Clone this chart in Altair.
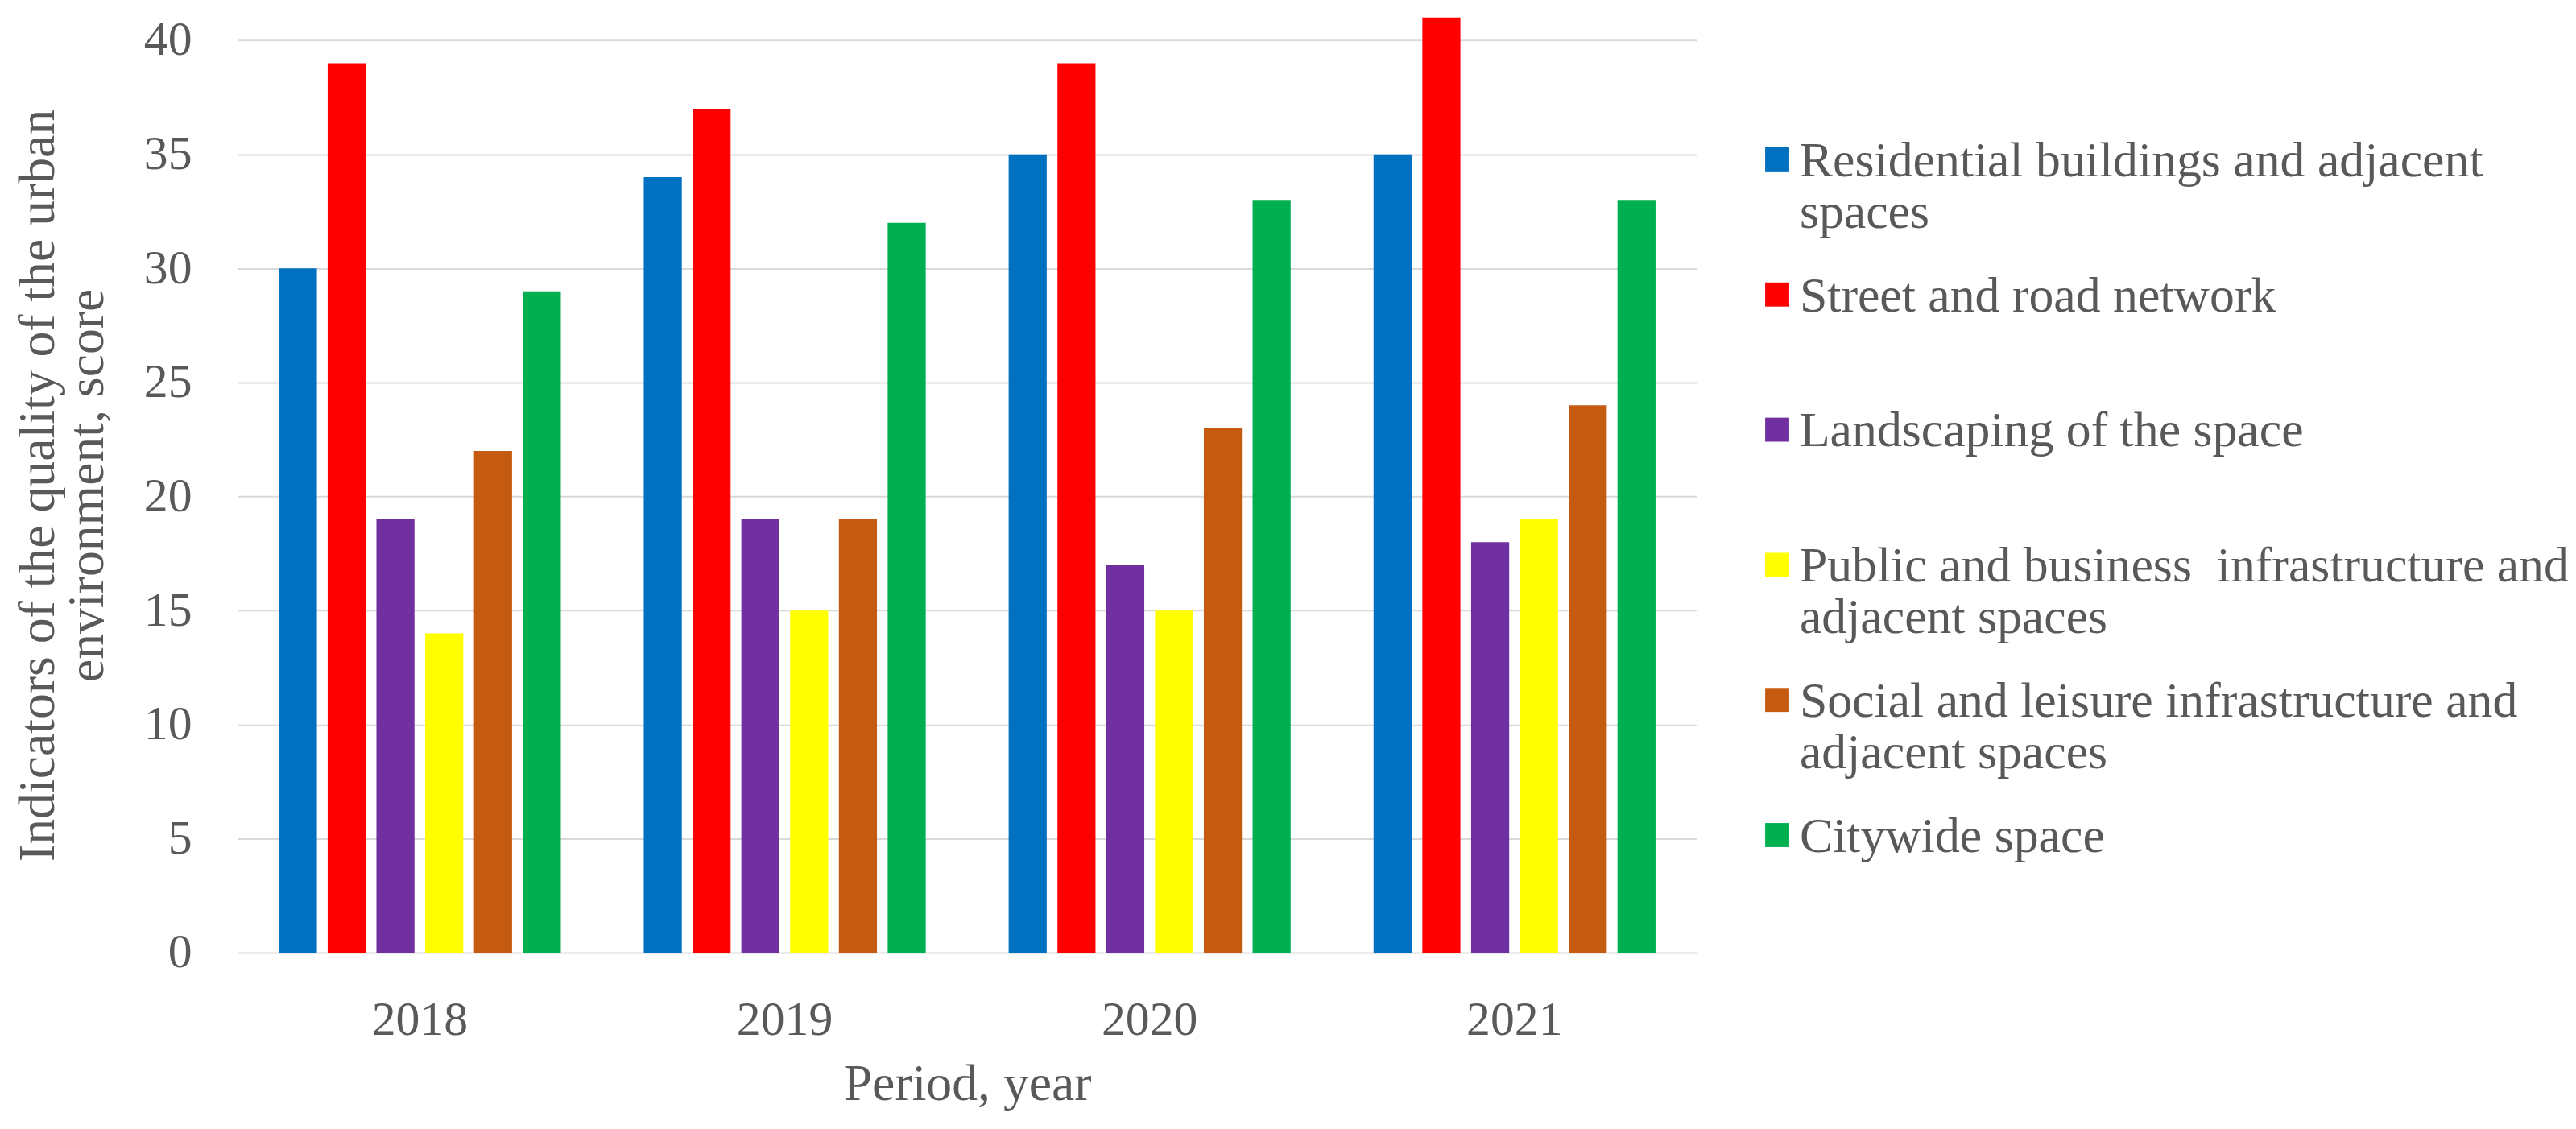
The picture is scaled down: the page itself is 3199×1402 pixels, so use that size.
import altair as alt
import pandas as pd

years = ["2018", "2019", "2020", "2021"]
categories = [
    "Residential buildings and adjacent spaces",
    "Street and road network",
    "Landscaping of the space",
    "Public and business infrastructure and adjacent spaces",
    "Social and leisure infrastructure and adjacent spaces",
    "Citywide space",
]
legend_labels = [
    "Residential buildings and adjacent| spaces",
    " Street and road network",
    "Landscaping of the space",
    "Public and business\u00a0 infrastructure and|adjacent spaces",
    "Social and leisure infrastructure and|adjacent spaces",
    "Citywide space",
]
colors = ["#0070C0", "#FF0000", "#7030A0", "#FFFF00", "#C55A11", "#00B050"]

residential = [30, 34, 35, 35]
street = [39, 37, 39, 41]
landscaping = [19, 19, 17, 18]
public = [14, 15, 15, 19]
social = [22, 19, 23, 24]
citywide = [29, 32, 33, 33]

series = [residential, street, landscaping, public, social, citywide]
rows = []
for cat, vals in zip(categories, series):
    for y, v in zip(years, vals):
        rows.append({"year": y, "category": cat, "value": v})
df = pd.DataFrame(rows)

FONT = "Liberation Serif"
TXT = "#595959"
LFS = 60   # tick labels
TFS = 64   # axis titles
GFS = 62   # legend text
PLOT_H = 1166

bars = alt.Chart(df).mark_bar().encode(
    x=alt.X("year:N", sort=years,
            scale=alt.Scale(paddingInner=0, paddingOuter=0),
            axis=alt.Axis(title="Period, year", labelAngle=0, ticks=False, domain=False,
                          labelFont=FONT, labelFontSize=LFS, labelColor=TXT, labelPadding=55,
                          titleFont=FONT, titleFontSize=TFS, titleColor=TXT, titleFontWeight="normal",
                          titlePadding=18)),
    xOffset=alt.XOffset("category:N", sort=categories,
                        scale=alt.Scale(paddingInner=0.22, paddingOuter=0.85)),
    y=alt.Y("value:Q",
            scale=alt.Scale(domain=[0, 41], nice=False),
            axis=alt.Axis(values=[0, 5, 10, 15, 20, 25, 30, 35, 40],
                          title=["Indicators of the quality of the urban", "environment, score"],
                          ticks=False, domain=False, grid=True, gridColor="#D9D9D9", gridWidth=2,
                          labelFont=FONT, labelFontSize=LFS, labelColor=TXT, labelPadding=57,
                          titleFont=FONT, titleFontSize=TFS, titleColor=TXT, titleFontWeight="normal",
                          titleLineHeight=61, titlePadding=38)),
    color=alt.Color("category:N", sort=categories,
                    scale=alt.Scale(domain=categories, range=colors), legend=None),
).properties(width=1820, height=PLOT_H)

leg_df = pd.DataFrame({
    "category": categories,
    "label": legend_labels,
    "idx": list(range(len(categories))),
})

ly = alt.Y("idx:Q", scale=alt.Scale(domain=[-1.05, 5.87], reverse=True, nice=False, zero=False),
           axis=None)

leg_sq = alt.Chart(leg_df).mark_square(size=30 * 30, opacity=1).encode(
    x=alt.value(16),
    y=ly,
    color=alt.Color("category:N", sort=categories,
                    scale=alt.Scale(domain=categories, range=colors), legend=None),
)
leg_txt = alt.Chart(leg_df).mark_text(
    align="left", baseline="alphabetic", dy=21, font=FONT, fontSize=GFS,
    color=TXT, lineBreak="|", lineHeight=64
).encode(
    x=alt.value(44),
    y=ly,
    text="label:N",
)
legend = alt.layer(leg_sq, leg_txt).properties(width=900, height=PLOT_H)

chart = alt.hconcat(bars, legend, spacing=84).properties(
    padding={"top": 9, "left": 8, "right": 0, "bottom": 0}
).configure_view(stroke=None)

chart.save("out.html", embed_options={"renderer": "svg", "actions": False})
